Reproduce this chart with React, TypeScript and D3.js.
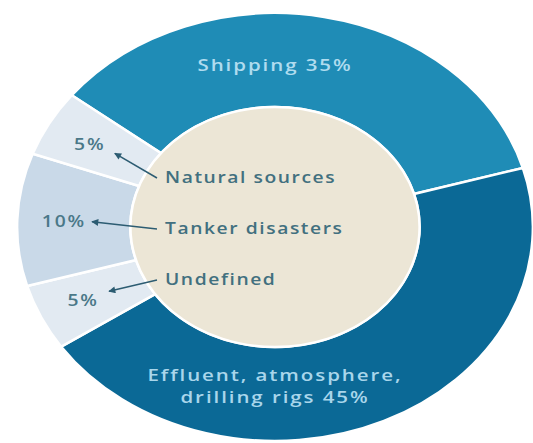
import React from "react";
import * as d3 from "d3";

const categories = ["Shipping", "Effluent, atmosphere, drilling rigs", "Undefined", "Tanker disasters", "Natural sources"];
const shares = [35, 45, 5, 10, 5];
const colors = ["#1f8cb6", "#0b6996", "#e2eaf2", "#c9d9e8", "#e2eaf2"];
const innerLabels = ["Natural sources", "Tanker disasters", "Undefined"];
const innerLabelSlice = [4, 3, 2];

const W = 533, H = 443;
const cx = 275, cy = 227, sx = 1.205;
const R = 214, r0 = 120;
const deg = Math.PI / 180;
const start = -52 * deg;

export default function App() {
  const pie = d3.pie<number>().sort(null).value(d => d).startAngle(start).endAngle(start + 2 * Math.PI);
  const arcs = pie(shares);
  const arc = d3.arc<d3.PieArcDatum<number>>().innerRadius(r0).outerRadius(R);
  const polar = (a: number, r: number): [number, number] => [cx + sx * r * Math.sin(a), cy - r * Math.cos(a)];
  const mid = (d: d3.PieArcDatum<number>) => (d.startAngle + d.endAngle) / 2;
  const font = "'Open Sans', 'DejaVu Sans', sans-serif";
  const stretch = (x: number, y: number) => `translate(${x},${y}) scale(${sx},1)`;
  const shipPos = polar(0, 162);
  const effPos = polar(Math.PI, 160);
  return (
    <svg width={W} height={H} style={{ position: "fixed", left: 0, top: 0, background: "#fff" }}>
      <defs>
        <marker id="ah" viewBox="0 0 10 10" refX="9" refY="5" markerWidth="9" markerHeight="7" orient="auto" markerUnits="userSpaceOnUse">
          <path d="M0,0 L10,5 L0,10 Z" fill="#2c5c72" />
        </marker>
      </defs>
      <g transform={`translate(${cx},${cy}) scale(${sx},1)`}>
        {arcs.map((d, i) => (
          <path key={categories[i]} d={arc(d) || ""} fill={colors[i]} stroke="#fff" strokeWidth={2.5} vectorEffect="non-scaling-stroke" />
        ))}
        <circle r={r0} fill="#ece6d6" stroke="#fff" strokeWidth={2.5} vectorEffect="non-scaling-stroke" />
      </g>
      <text transform={stretch(shipPos[0], shipPos[1])} textAnchor="middle" dominantBaseline="central"
        fontFamily={font} fontWeight={600} fontSize={17} letterSpacing={1.6} fill="#b0dcef">
        {`Shipping ${shares[0]}%`}
      </text>
      <g transform={stretch(effPos[0], effPos[1])} fontFamily={font} fontWeight={600} fontSize={17} letterSpacing={1.6} fill="#a9d6eb" textAnchor="middle">
        <text y={-6}>Effluent, atmosphere,</text>
        <text y={16}>{`drilling rigs ${shares[1]}%`}</text>
      </g>
      {innerLabels.map((lab, i) => {
        const d = arcs[innerLabelSlice[i]];
        const y = cy - 44 + i * 51;
        const x = 165;
        const tip = polar(mid(d), 152);
        const pp = polar(mid(d), 172);
        const sy = y - 5;
        return (
          <g key={lab}>
            <line x1={x - 8} y1={sy} x2={tip[0]} y2={tip[1]} stroke="#2c5c72" strokeWidth={1.5} markerEnd="url(#ah)" />
            <text transform={stretch(x, y)} fontFamily={font} fontWeight={600} fontSize={16} letterSpacing={1.3} fill="#42707f">{lab}</text>
            <text transform={stretch(pp[0] - 4, pp[1])} textAnchor="middle" dominantBaseline="central" fontFamily={font} fontWeight={600} fontSize={16} letterSpacing={1.5} fill="#4a7888">
              {`${shares[innerLabelSlice[i]]}%`}
            </text>
          </g>
        );
      })}
    </svg>
  );
}
